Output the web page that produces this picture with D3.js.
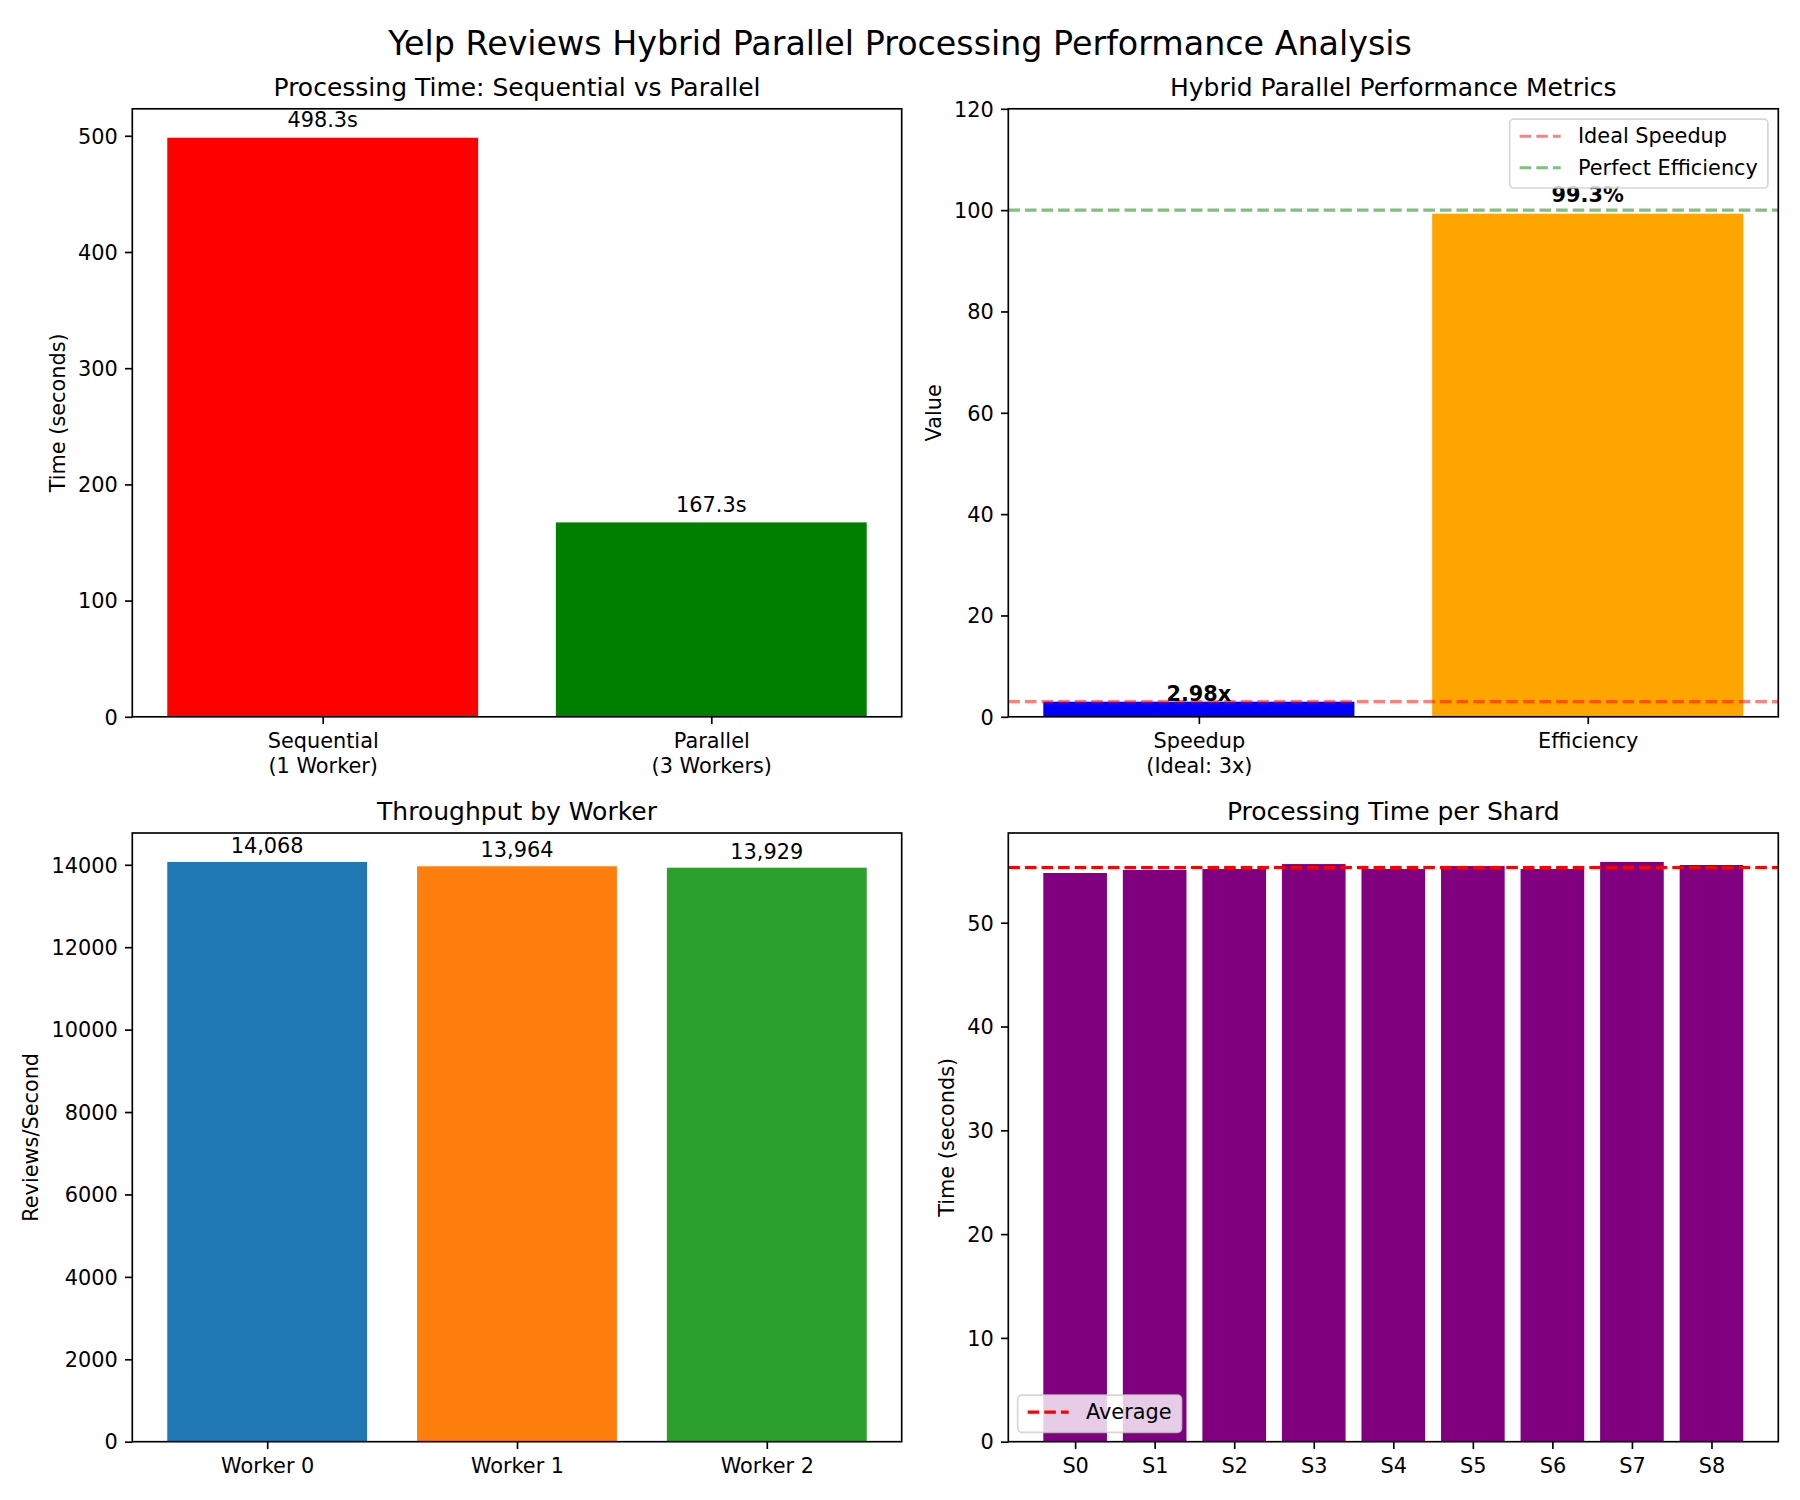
<!DOCTYPE html>
<html><head><meta charset="utf-8">
<script src="https://cdn.jsdelivr.net/npm/d3@7"></script>
<style>body{margin:0;background:#fff;} svg{display:block;font-family:"DejaVu Sans",sans-serif;}</style>
</head><body><svg id="c" width="1800" height="1500"></svg>
<script>
// ---------- data ----------
const seqLabels = ["Sequential\n(1 Worker)", "Parallel\n(3 Workers)"];
const seqTimes = [498.3, 167.3];
const seqColors = ["red", "green"];

const metricLabels = ["Speedup\n(Ideal: 3x)", "Efficiency"];
const metricValues = [2.98, 99.3];
const metricText = ["2.98x", "99.3%"];
const metricColors = ["blue", "orange"];
const idealSpeedup = 3;
const perfectEfficiency = 100;

const workerLabels = ["Worker 0", "Worker 1", "Worker 2"];
const workerThroughput = [14068, 13964, 13929];
const workerColors = ["#1f77b4", "#ff7f0e", "#2ca02c"];

const shardLabels = ["S0", "S1", "S2", "S3", "S4", "S5", "S6", "S7", "S8"];
const shardTimes = [54.79, 55.08, 55.17, 55.65, 55.17, 55.46, 55.17, 55.85, 55.56];
const shardColor = "purple";

const ticksTime = [0, 100, 200, 300, 400, 500];
const ticksMetric = [0, 20, 40, 60, 80, 100, 120];
const ticksThroughput = [0, 2000, 4000, 6000, 8000, 10000, 12000, 14000];
const ticksShard = [0, 10, 20, 30, 40, 50];

// ---------- drawing ----------
const FS = 20.83;
const svg = d3.select("#c");
svg.append("rect").attr("width", 1800).attr("height", 1500).attr("fill", "#fff");
svg.append("text").attr("x", 900).attr("y", 55).attr("text-anchor", "middle")
  .attr("font-size", 33.3).attr("fill", "#000")
  .text("Yelp Reviews Hybrid Parallel Processing Performance Analysis");

let clipN = 0;
function panel(o) {
  const {x0, x1, y0, y1} = o.box;
  const n = o.values.length;
  const g = svg.append("g");
  const x = d3.scaleLinear().domain([-0.4 - 0.05 * (n - 0.2), n - 0.6 + 0.05 * (n - 0.2)]).range([x0, x1]);
  const y = d3.scaleLinear().domain([0, o.ymax]).range([y1, y0]);
  const cid = "clip" + (clipN++);
  g.append("clipPath").attr("id", cid).append("rect")
    .attr("x", x0).attr("y", y0).attr("width", x1 - x0).attr("height", y1 - y0);
  const inner = g.append("g").attr("clip-path", `url(#${cid})`);
  inner.selectAll("rect.bar").data(o.values).join("rect").attr("class", "bar")
    .attr("x", (d, i) => x(i - 0.4)).attr("width", (d, i) => x(i + 0.4) - x(i - 0.4))
    .attr("y", d => y(d)).attr("height", d => y(0) - y(d))
    .attr("fill", (d, i) => Array.isArray(o.colors) ? o.colors[i] : o.colors);
  (o.hlines || []).forEach(l => {
    inner.append("line").attr("x1", x0).attr("x2", x1).attr("y1", y(l.v)).attr("y2", y(l.v))
      .attr("stroke", l.color).attr("stroke-opacity", l.alpha).attr("stroke-width", 3.1)
      .attr("stroke-dasharray", "11.6,5");
  });
  // y axis
  const ya = g.append("g").attr("transform", `translate(${x0},0)`)
    .call(d3.axisLeft(y).tickValues(o.yticks).tickSize(7.3).tickPadding(7.3).tickSizeOuter(0).tickFormat(d3.format("d")));
  ya.attr("font-size", null).attr("font-family", null);
  ya.select(".domain").remove();
  ya.selectAll(".tick line").attr("stroke", "#000").attr("stroke-width", 1.67);
  ya.selectAll(".tick text").attr("font-size", FS).attr("fill", "#000").attr("dy", "0.35em");
  let maxW = 0;
  ya.selectAll(".tick text").each(function () { maxW = Math.max(maxW, this.getComputedTextLength()); });
  // x axis
  const xa = g.append("g").attr("transform", `translate(0,${y1})`)
    .call(d3.axisBottom(x).tickValues(d3.range(n)).tickSize(7.3).tickSizeOuter(0).tickFormat(i => o.labels[i]));
  xa.attr("font-size", null).attr("font-family", null);
  xa.select(".domain").remove();
  xa.selectAll(".tick line").attr("stroke", "#000").attr("stroke-width", 1.67);
  xa.selectAll(".tick text").each(function (d) {
    const t = d3.select(this);
    const lines = o.labels[d].split("\n");
    t.text(null).attr("font-size", FS).attr("fill", "#000").attr("y", 31.5).attr("dy", null);
    lines.forEach((s, k) => t.append("tspan").attr("x", 0).attr("dy", k === 0 ? 0 : 25).text(s));
  });
  // frame
  g.append("rect").attr("x", x0).attr("y", y0).attr("width", x1 - x0).attr("height", y1 - y0)
    .attr("fill", "none").attr("stroke", "#000").attr("stroke-width", 1.67);
  // title
  g.append("text").attr("x", (x0 + x1) / 2).attr("y", y0 - 13).attr("text-anchor", "middle")
    .attr("font-size", 25).attr("fill", "#000").text(o.title);
  // ylabel
  const bx = x0 - 14.6 - maxW - 8.3 - 4.9;
  g.append("text").attr("transform", `translate(${bx},${(y0 + y1) / 2}) rotate(-90)`)
    .attr("text-anchor", "middle").attr("font-size", FS).attr("fill", "#000").text(o.ylabel);
  // value labels
  if (o.valueText) {
    g.selectAll("text.val").data(o.values).join("text").attr("class", "val")
      .attr("x", (d, i) => x(i)).attr("y", (d, i) => y(d + (o.valOffsetData || 0)) - o.valOffsetPx[i])
      .attr("text-anchor", "middle").attr("font-size", FS).attr("fill", "#000")
      .attr("font-weight", o.bold ? "bold" : "normal")
      .text((d, i) => o.valueText(d, i));
  }
  return {g, x, y};
}

function legend(g, items, pos) {
  const pad = 8, rowH = 21.2, spacing = 10.4;
  const tmp = g.append("g");
  let tw = 0;
  items.forEach(it => {
    const t = tmp.append("text").attr("font-size", FS).text(it.label);
    tw = Math.max(tw, t.node().getComputedTextLength());
  });
  tmp.remove();
  const w = 10 + 41 + 17.3 + tw + 10;
  const h = 2 * pad + items.length * rowH + (items.length - 1) * spacing;
  const left = pos.right !== undefined ? pos.right - w : pos.left;
  const top = pos.top !== undefined ? pos.top : pos.bottom - h;
  const lg = g.append("g");
  lg.append("rect").attr("x", left).attr("y", top).attr("width", w).attr("height", h).attr("rx", 4)
    .attr("fill", "#fff").attr("fill-opacity", 0.8).attr("stroke", "#cccccc").attr("stroke-opacity", 0.8)
    .attr("stroke-width", 1.67);
  items.forEach((it, k) => {
    const base = top + pad + 15.7 + k * (rowH + spacing);
    lg.append("line").attr("x1", left + 10).attr("x2", left + 51).attr("y1", base - 6.7).attr("y2", base - 6.7)
      .attr("stroke", it.color).attr("stroke-opacity", it.alpha).attr("stroke-width", 3.1)
      .attr("stroke-dasharray", "11.6,5");
    lg.append("text").attr("x", left + 68.3).attr("y", base).attr("font-size", FS).attr("fill", "#000").text(it.label);
  });
}

const L = {x0: 132.3, x1: 901.7}, R = {x0: 1008.3, x1: 1778.3};
const T = {y0: 108.8, y1: 716.8}, B = {y0: 833, y1: 1441.7};

// Panel 1
panel({box: {...L, ...T}, values: seqTimes, labels: seqLabels, colors: seqColors,
  ymax: d3.max(seqTimes) * 1.05, yticks: ticksTime, title: "Processing Time: Sequential vs Parallel",
  ylabel: "Time (seconds)", valueText: d => d.toFixed(1) + "s", valOffsetData: 5, valOffsetPx: [4.9, 4.9]});

// Panel 2
const p2 = panel({box: {...R, ...T}, values: metricValues, labels: metricLabels, colors: metricColors,
  ymax: 120, yticks: ticksMetric, title: "Hybrid Parallel Performance Metrics",
  ylabel: "Value", hlines: [{v: idealSpeedup, color: "red", alpha: 0.5}, {v: perfectEfficiency, color: "green", alpha: 0.5}],
  valueText: (d, i) => metricText[i], bold: true, valOffsetData: 0, valOffsetPx: [0.6, 12]});
legend(p2.g, [{label: "Ideal Speedup", color: "red", alpha: 0.5}, {label: "Perfect Efficiency", color: "green", alpha: 0.5}],
  {right: R.x1 - 10.4, top: T.y0 + 10.4});

// Panel 3
panel({box: {...L, ...B}, values: workerThroughput, labels: workerLabels, colors: workerColors,
  ymax: d3.max(workerThroughput) * 1.05, yticks: ticksThroughput, title: "Throughput by Worker",
  ylabel: "Reviews/Second", valueText: d => d3.format(",")(d), valOffsetData: 100, valOffsetPx: [4.9, 4.9, 4.9]});

// Panel 4
const avg = d3.mean(shardTimes);
const p4 = panel({box: {...R, ...B}, values: shardTimes, labels: shardLabels, colors: shardColor,
  ymax: d3.max(shardTimes) * 1.05, yticks: ticksShard, title: "Processing Time per Shard",
  ylabel: "Time (seconds)", hlines: [{v: avg, color: "red", alpha: 1}]});
legend(p4.g, [{label: "Average", color: "red", alpha: 1}], {left: R.x0 + 9.4, bottom: B.y1 - 9.4});
</script>
</body></html>
